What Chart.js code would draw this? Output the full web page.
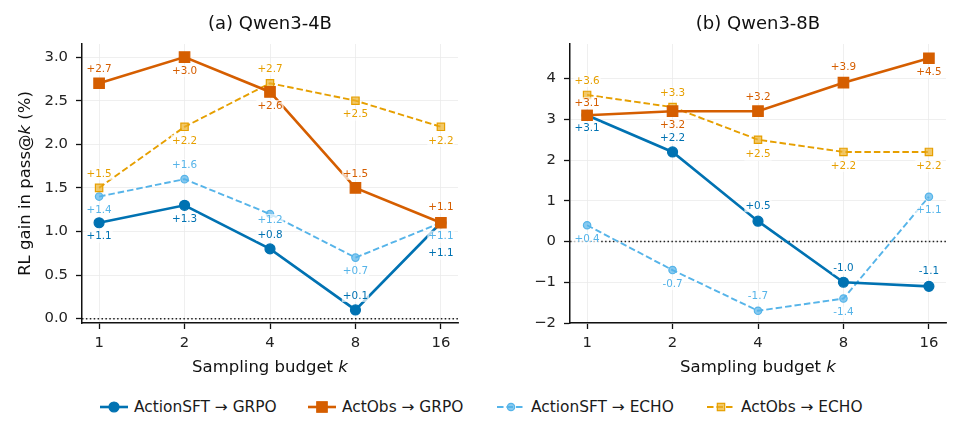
<!DOCTYPE html>
<html>
<head>
<meta charset="utf-8">
<script src="https://cdn.jsdelivr.net/npm/chart.js@4.4.1/dist/chart.umd.min.js"></script>
<style>
    html, body { margin: 0; padding: 0; background: #fff; }
    body { width: 964px; height: 442px; position: relative; overflow: hidden; font-family: 'DejaVu Sans', sans-serif; }
    .panel { position: absolute; top: 0; width: 482px; height: 390px; }
    #panelA { left: 0; }
    #panelB { left: 482px; }
    #legend { position: absolute; left: 0; top: 398px; width: 964px; height: 20px; font-size: 15.4px; color: #1a1a1a; white-space: nowrap; }
    .item { position: absolute; top: 0; display: flex; align-items: center; }
    .item svg { margin-right: 6px; }
</style>
</head>
<body>
<div class="panel" id="panelA"><canvas id="chartA" width="482" height="390"></canvas></div>
<div class="panel" id="panelB"><canvas id="chartB" width="482" height="390"></canvas></div>
<div id="legend"></div>

<script>
// Chart data
const kLabels = ['1', '2', '4', '8', '16'];
const seriesNames = ['ActionSFT \u2192 GRPO', 'ActObs \u2192 GRPO', 'ActionSFT \u2192 ECHO', 'ActObs \u2192 ECHO'];

// (a) Qwen3-4B
const sftGrpo4B = [1.1, 1.3, 0.8, 0.1, 1.1];
const obsGrpo4B = [2.7, 3.0, 2.6, 1.5, 1.1];
const sftEcho4B = [1.4, 1.6, 1.2, 0.7, 1.1];
const obsEcho4B = [1.5, 2.2, 2.7, 2.5, 2.2];

// (b) Qwen3-8B
const sftGrpo8B = [3.1, 2.2, 0.5, -1.0, -1.1];
const obsGrpo8B = [3.1, 3.2, 3.2, 3.9, 4.5];
const sftEcho8B = [0.4, -0.7, -1.7, -1.4, 1.1];
const obsEcho8B = [3.6, 3.3, 2.5, 2.2, 2.2];

const yTicks4B = [0.0, 0.5, 1.0, 1.5, 2.0, 2.5, 3.0];
const yTicks8B = [-2, -1, 0, 1, 2, 3, 4];

// Line / marker look per series (same order as seriesNames)
const seriesStyles = [
    { color: '#0072B2', fill: '#0072B2', width: 2.6, dash: [], point: 'circle', radius: 5, order: 1 },
    { color: '#D55E00', fill: '#D55E00', width: 2.6, dash: [], point: 'rect', radius: 7.4, order: 0 },
    { color: '#56B4E9', fill: 'rgba(86,180,233,0.7)', width: 1.9, dash: [6.5, 3], point: 'circle', radius: 3.7, order: 3 },
    { color: '#E69F00', fill: 'rgba(236,176,40,0.7)', width: 1.9, dash: [6.5, 3], point: 'rect', radius: 5.2, order: 2 }
];
const legendLeft = [100, 308, 497, 707];

const FONT = '"DejaVu Sans", sans-serif';

// Value labels above / below each point (pixel shift from the point)
const valueLabels = {
    id: 'valueLabels',
    afterDatasetsDraw(chart, args, opts) {
        const ctx = chart.ctx;
        ctx.save();
        ctx.font = '10.4px ' + FONT;
        ctx.textAlign = 'center';
        ctx.textBaseline = 'middle';
        chart.data.datasets.forEach((ds, i) => {
            chart.getDatasetMeta(i).data.forEach((pt, j) => {
                const v = ds.data[j].y;
                const txt = (v >= 0 ? '+' : '') + v.toFixed(1);
                const x = pt.x;
                const y = pt.y + opts.offsets[i][j];
                const w = ctx.measureText(txt).width;
                ctx.fillStyle = 'rgba(255,255,255,0.7)';
                ctx.fillRect(x - w / 2 - 1, y - 6, w + 2, 12);
                ctx.fillStyle = seriesStyles[i].color;
                ctx.fillText(txt, x, y);
            });
        });
        ctx.restore();
    }
};

// Dotted line at zero
const zeroLine = {
    id: 'zeroLine',
    beforeDatasetsDraw(chart) {
        const { ctx, chartArea, scales } = chart;
        const y = scales.y.getPixelForValue(0);
        ctx.save();
        ctx.strokeStyle = '#222';
        ctx.lineWidth = 1.5;
        ctx.setLineDash([1.5, 2.4]);
        ctx.beginPath();
        ctx.moveTo(chartArea.left, y);
        ctx.lineTo(chartArea.right, y);
        ctx.stroke();
        ctx.restore();
    }
};

// Axis titles with an italic k
function drawMixed(ctx, parts, x, y) {
    let total = 0;
    parts.forEach(p => {
        ctx.font = (p.italic ? 'italic ' : '') + '16.5px ' + FONT;
        p.w = ctx.measureText(p.text).width;
        total += p.w;
    });
    let cx = x - total / 2;
    parts.forEach(p => {
        ctx.font = (p.italic ? 'italic ' : '') + '16.5px ' + FONT;
        ctx.fillText(p.text, cx, y);
        cx += p.w;
    });
}

const axisTitles = {
    id: 'axisTitles',
    afterDraw(chart, args, opts) {
        const { ctx, chartArea } = chart;
        ctx.save();
        ctx.fillStyle = '#111';
        ctx.textAlign = 'left';
        ctx.textBaseline = 'middle';
        const cx = (chartArea.left + chartArea.right) / 2;
        drawMixed(ctx, [{ text: 'Sampling budget ' }, { text: 'k', italic: true }], cx, 368);
        if (opts.yTitle) {
            ctx.translate(26, (chartArea.top + chartArea.bottom) / 2);
            ctx.rotate(-Math.PI / 2);
            drawMixed(ctx, [{ text: 'RL gain in pass@' }, { text: 'k', italic: true }, { text: ' (%)' }], 0, 0);
        }
        ctx.restore();
    }
};

function makeChart(id, title, series, yTicks, yMin, yMax, yFormat, yWidth, padRight, offsets, yTitle) {
    const datasets = series.map((vals, i) => {
        const s = seriesStyles[i];
        return {
            label: seriesNames[i],
            data: vals.map((v, j) => ({ x: j, y: v })),
            borderColor: s.color,
            backgroundColor: s.fill,
            borderWidth: s.width,
            borderDash: s.dash,
            pointStyle: s.point,
            pointRadius: s.radius,
            pointBorderColor: s.color,
            pointBackgroundColor: s.fill,
            pointBorderWidth: 1.2,
            tension: 0,
            fill: false,
            order: s.order
        };
    });

    const tickFont = { family: FONT, size: 14.8 };
    const grid = { color: '#ebebeb', lineWidth: 0.8, drawTicks: true, tickLength: 6, tickColor: '#111', tickWidth: 1.3 };
    const border = { display: true, color: '#111', width: 1.5 };

    return new Chart(document.getElementById(id), {
        type: 'line',
        data: { datasets },
        options: {
            responsive: false,
            animation: false,
            layout: { padding: { left: 0, right: padRight, top: 0, bottom: 0 } },
            plugins: {
                legend: { display: false },
                tooltip: { enabled: false },
                title: {
                    display: true,
                    text: title,
                    fullSize: false,
                    color: '#111',
                    font: { family: FONT, size: 18, weight: 'normal' },
                    padding: { top: 14, bottom: 8.4 }
                },
                valueLabels: { offsets },
                axisTitles: { yTitle }
            },
            scales: {
                x: {
                    type: 'linear',
                    min: -0.2,
                    max: 4.2,
                    afterBuildTicks: s => { s.ticks = kLabels.map((_, i) => ({ value: i })); },
                    afterFit: s => { s.height = 67; },
                    ticks: { font: tickFont, color: '#222', padding: 5, maxRotation: 0, callback: (v, i) => kLabels[i] },
                    grid,
                    border
                },
                y: {
                    min: yMin,
                    max: yMax,
                    afterBuildTicks: s => { s.ticks = yTicks.map(v => ({ value: v })); },
                    afterFit: s => { s.width = yWidth; },
                    ticks: { font: tickFont, color: '#222', padding: 8, callback: v => yFormat(v) },
                    grid,
                    border
                }
            }
        },
        plugins: [zeroLine, valueLabels, axisTitles]
    });
}

makeChart('chartA', '(a) Qwen3-4B',
    [sftGrpo4B, obsGrpo4B, sftEcho4B, obsEcho4B],
    yTicks4B, -0.05, 3.15, v => v.toFixed(1), 82, 24,
    [[14, 14, -14, -14, 31], [-14, 14, 14, -14, -15], [14, -14, 6, 14, 14], [-14, 14, -14, 14, 14]],
    true);

makeChart('chartB', '(b) Qwen3-8B',
    [sftGrpo8B, obsGrpo8B, sftEcho8B, obsEcho8B],
    yTicks8B, -2, 4.85, v => String(v).replace('-', '\u2212'), 88, 18,
    [[13, -14, -15, -14, -15], [-12, 14, -14, -15, 14], [14, 14, -14, 14, 14], [-14, -14, 15, 14, 14]],
    false);

// Shared legend under both panels
const legend = document.getElementById('legend');
seriesNames.forEach((name, i) => {
    const s = seriesStyles[i];
    const marker = s.point === 'circle'
        ? `<circle cx="14" cy="8" r="${s.radius}" fill="${s.fill}" stroke="${s.color}" stroke-width="1.2"/>`
        : `<rect x="${14 - s.radius * 0.707}" y="${8 - s.radius * 0.707}" width="${s.radius * 1.414}" height="${s.radius * 1.414}" fill="${s.fill}" stroke="${s.color}" stroke-width="1.2"/>`;
    const item = document.createElement('div');
    item.className = 'item';
    item.style.left = legendLeft[i] + 'px';
    item.innerHTML = `<svg width="28" height="16"><line x1="0" y1="8" x2="28" y2="8" stroke="${s.color}" stroke-width="${s.width}" stroke-dasharray="${s.dash.join(' ')}"/>${marker}</svg><span>${name}</span>`;
    legend.appendChild(item);
});
</script>
</body>
</html>
